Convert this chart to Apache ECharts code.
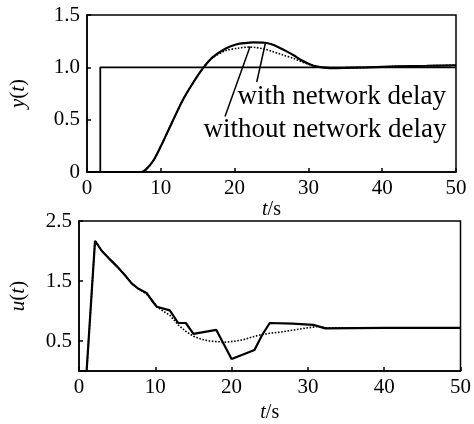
<!DOCTYPE html>
<html><head><meta charset="utf-8">
<script src="https://cdn.jsdelivr.net/npm/echarts@6/dist/echarts.min.js"></script>
<style>html,body{margin:0;padding:0;background:#fff}#c{width:474px;height:424px}</style>
</head><body><div id="c"></div>
<script>
// ---- data ----
const refInput = [[0,0],[1.8,0],[1.8,1.0],[50,1.0]];
const yDelay = [[0,0],[7.4,0],[8,0.025],[9,0.11],[10,0.245],[11.5,0.47],[13,0.69],[14.4,0.855],[15.7,0.99],[17,1.095],[18.8,1.18],[20.3,1.22],[21.4,1.232],[22.5,1.238],[24.1,1.235],[25,1.22],[26,1.19],[27,1.155],[28,1.115],[29,1.07],[30,1.035],[30.7,1.015],[31.8,1.0],[32.9,0.993],[35,0.995],[38,1.0],[42,1.01],[46,1.015],[50,1.02]];
const yNoDelay = [[7.4,0],[8,0.025],[9,0.11],[10,0.245],[11.5,0.47],[13,0.69],[14.4,0.855],[15.7,0.99],[17,1.09],[18.8,1.16],[20.5,1.183],[21.8,1.193],[22.8,1.19],[24,1.175],[25,1.155],[26.5,1.12],[28,1.085],[29,1.055],[30,1.03],[31,1.01],[32.5,0.997],[35,0.995],[38,1.0],[42,1.01],[46,1.015],[50,1.02]];
const uDelay = [[0,0],[1.0,0],[2.1,2.17],[3,2.0],[4.06,1.86],[5,1.74],[6,1.6],[6.9,1.46],[7.8,1.37],[8.86,1.3],[9.2,1.24],[9.7,1.15],[10.2,1.07],[11.9,1.01],[13,0.8],[14,0.8],[15,0.62],[18,0.685],[20,0.2],[23,0.35],[24,0.6],[25,0.8],[28,0.79],[30.7,0.77],[31.5,0.74],[32.3,0.71],[40,0.72],[50,0.72]];
const uNoDelay = [[1.0,0],[2.1,2.17],[3,2.0],[4.06,1.86],[5,1.74],[6,1.6],[6.9,1.46],[7.8,1.37],[8.86,1.28],[9.5,1.2],[10.2,1.07],[11,1.0],[11.9,0.93],[13,0.77],[14,0.66],[15,0.58],[16,0.53],[17.1,0.5],[18,0.49],[19.3,0.48],[20.5,0.5],[21.5,0.52],[22.5,0.56],[23.7,0.6],[25,0.63],[26.5,0.65],[28,0.68],[29.5,0.71],[31.1,0.74],[32.3,0.72],[40,0.72],[50,0.72]];
const xTicks = [0,10,20,30,40,50];
const yTopTicks = [0,0.5,1.0,1.5];
const yBotTicks = [0.5,1.5,2.5];
const labelWith = 'with network delay';
const labelWithout = 'without network delay';
const leaderWith = [[24.2,1.24],[23.0,0.86]];
const leaderWithout = [[22.1,1.2],[18.7,0.53]];
const textWithAnchor = [20.4,0.72];
const textWithoutAnchor = [15.8,0.40];

// ---- chart ----
const FONT = '"Liberation Serif","Times New Roman",serif';
const chart = echarts.init(document.getElementById('c'), null, {renderer:'canvas'});
const black = '#000';
function xAxis(gi){
  return {type:'value', gridIndex:gi, min:0, max:50, interval:10,
    axisLine:{show:true, onZero:false, lineStyle:{color:black,width:1.5}},
    axisTick:{show:true, inside:true, length:4, customValues:xTicks, lineStyle:{color:black,width:1.5}},
    axisLabel:{color:black, fontFamily:FONT, fontSize:21, margin:6},
    splitLine:{show:false},
    name:'{i|t}/s', nameLocation:'middle', nameGap: gi===0?25:32,
    nameTextStyle:{color:black, fontFamily:FONT, fontSize:20, rich:{i:{fontStyle:'italic',fontFamily:FONT,fontSize:20,color:black}}}
  };
}
function yAxis(gi, max, ticks, nm, gap){
  return {type:'value', gridIndex:gi, min:0, max:max, interval:0.5,
    axisLine:{show:true, onZero:false, lineStyle:{color:black,width:1.5}},
    axisTick:{show:true, inside:true, length:4, customValues:ticks, lineStyle:{color:black,width:1.5}},
    axisLabel:{color:black, fontFamily:FONT, fontSize:21, margin:7, customValues:ticks,
      formatter:v=> v===0?'0':v.toFixed(1)},
    splitLine:{show:false},
    name:nm, nameLocation:'middle', nameGap:gap, nameRotate:90,
    nameTextStyle:{color:black, fontFamily:FONT, fontSize:21, rich:{i:{fontStyle:'italic',fontFamily:FONT,fontSize:21,color:black}}}
  };
}
const line = (gi, data, type, w, smooth) => ({type:'line', xAxisIndex:gi, yAxisIndex:gi, data:data, showSymbol:false, symbol:'none', animation:false, silent:true,
  smooth: smooth ? 0.3 : false,
  lineStyle:{color:black, width:w, type:type}});
chart.setOption({
  animation:false,
  backgroundColor:'#fff',
  grid:[
    {left:78, right:18, top:15, height:157, show:true, borderColor:black, borderWidth:1.5},
    {left:79, right:13, top:221, height:157, show:true, borderColor:black, borderWidth:1.5}
  ],
  xAxis:[xAxis(0), xAxis(1)],
  yAxis:[yAxis(0,1.5,yTopTicks,'{i|y}({i|t})',58), yAxis(1,2.5,yBotTicks,'{i|u}({i|t})',50)],
  series:[
    line(0, refInput, 'solid', 1.8, false),
    line(0, yNoDelay, 'dotted', 1.6, true),
    line(0, yDelay, 'solid', 2.2, true),
    line(0, leaderWith, 'solid', 1.5, false),
    line(0, leaderWithout, 'solid', 1.5, false),
    line(1, uNoDelay, 'dotted', 1.6, false),
    line(1, uDelay, 'solid', 2.2, false)
  ]
});
const p1 = chart.convertToPixel({gridIndex:0}, textWithAnchor);
const p2 = chart.convertToPixel({gridIndex:0}, textWithoutAnchor);
chart.setOption({graphic:[
  {type:'text', x:p1[0], y:p1[1], style:{text:labelWith, fill:black, font:'27px '+FONT, textVerticalAlign:'middle', textAlign:'left'}},
  {type:'text', x:p2[0], y:p2[1], style:{text:labelWithout, fill:black, font:'27px '+FONT, textVerticalAlign:'middle', textAlign:'left'}}
]});
</script></body></html>
